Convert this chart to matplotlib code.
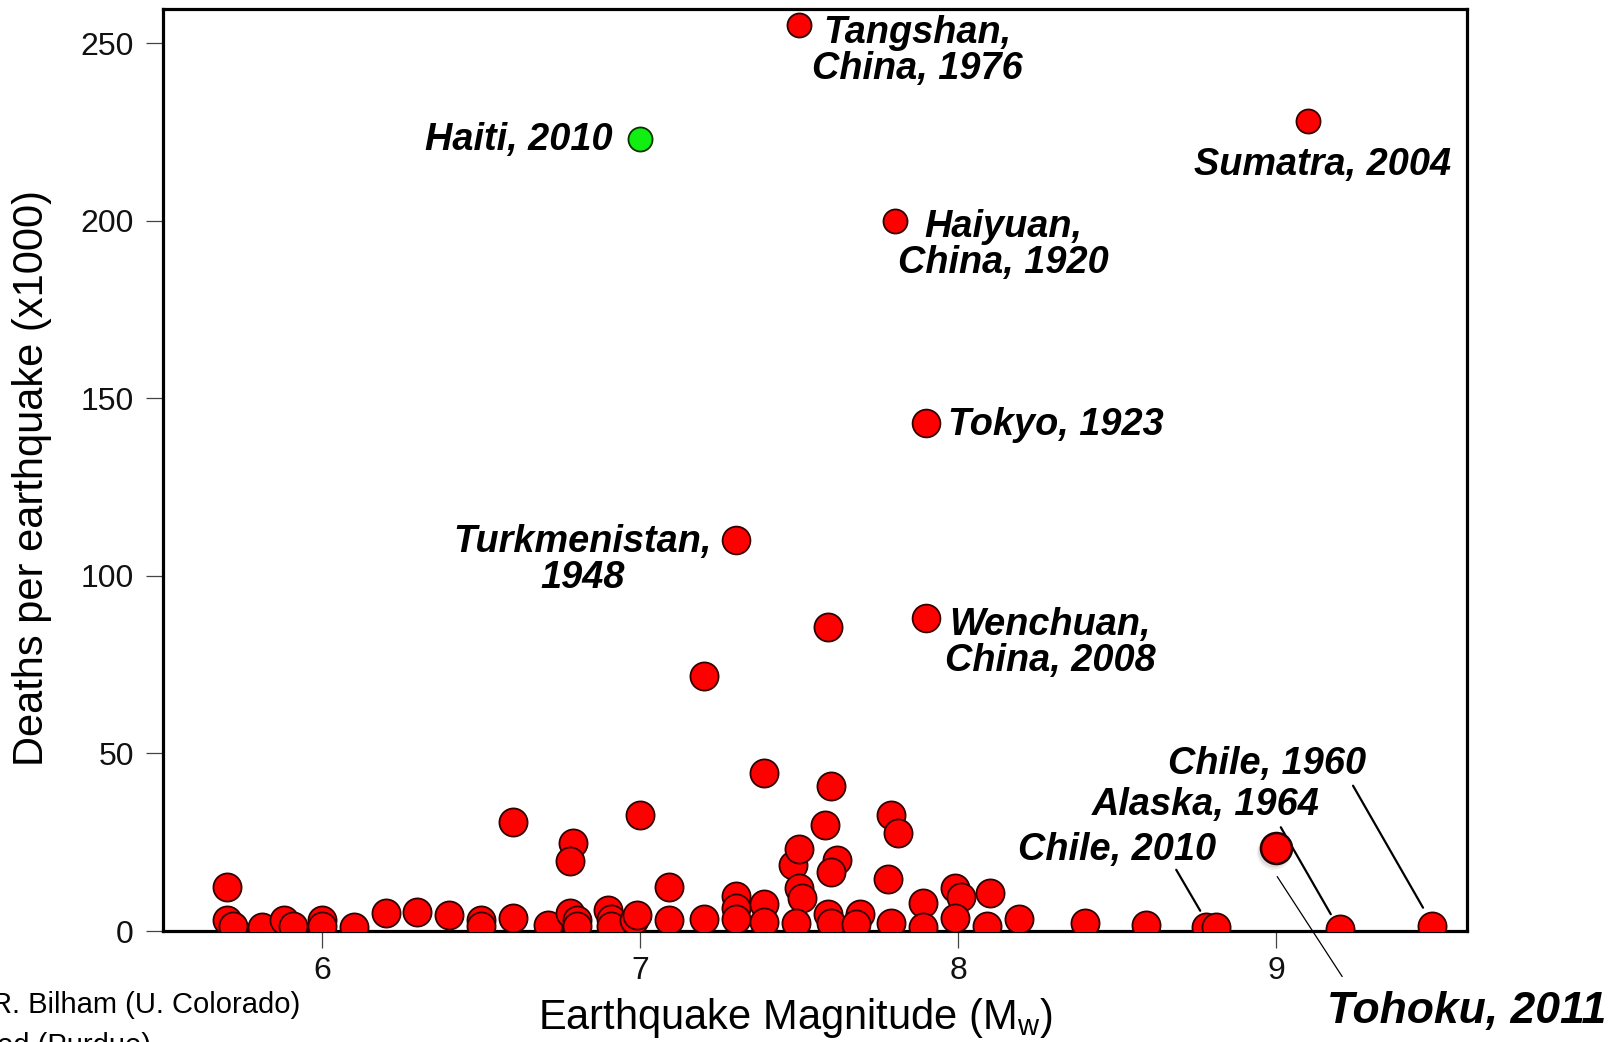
import matplotlib.pyplot as plt
from matplotlib.transforms import offset_copy

plt.rcParams['font.family'] = ['Liberation Sans', 'DejaVu Sans']
plt.rcParams['mathtext.fontset'] = 'custom'
plt.rcParams['mathtext.rm'] = 'Liberation Sans'

# unlabelled earthquakes: magnitude, deaths (x1000)
mag = [5.70, 5.70, 5.72, 5.81, 5.88, 5.91, 6.00, 6.00, 6.10, 6.20,
       6.30, 6.40, 6.50, 6.50, 6.60, 6.60, 6.71, 6.78, 6.80, 6.80,
       6.79, 6.78, 6.90, 6.91, 6.91, 6.98, 6.99, 7.00, 7.09, 7.09,
       7.20, 7.20, 7.30, 7.30, 7.30, 7.39, 7.39, 7.39, 7.48, 7.50,
       7.50, 7.51, 7.49, 7.58, 7.59, 7.60, 7.62, 7.60, 7.59, 7.60,
       7.69, 7.68, 7.78, 7.79, 7.81, 7.79, 7.89, 7.89, 7.99, 8.01,
       8.10, 7.99, 8.09, 8.19, 8.40, 8.59, 8.78, 8.81, 9.20, 9.49]
deaths = [12.5, 3.0, 1.5, 1.2, 3.0, 1.5, 3.0, 1.5, 1.2, 5.0,
          5.3, 4.4, 3.0, 1.5, 3.8, 30.6, 1.8, 5.2, 3.0, 1.5,
          24.8, 19.8, 5.8, 3.5, 1.5, 3.0, 4.4, 32.6, 12.5, 3.0,
          71.7, 3.5, 10.0, 6.6, 3.5, 7.7, 2.5, 44.6, 18.7, 23.0,
          12.0, 9.2, 2.4, 29.8, 85.6, 40.8, 19.9, 16.6, 4.9, 2.4,
          4.9, 2.0, 14.6, 32.7, 27.6, 2.4, 7.9, 1.0, 12.2, 9.5,
          10.8, 3.7, 1.5, 3.5, 2.4, 1.8, 1.2, 1.0, 0.5, 1.5]

# labelled big ones
big_names = ['Tangshan,\nChina, 1976', 'Sumatra, 2004', 'Haiyuan,\nChina, 1920']
big_mag = [7.5, 9.1, 7.8]
big_deaths = [255, 228, 200]

mid_names = ['Tokyo, 1923', 'Turkmenistan,\n1948', 'Wenchuan,\nChina, 2008']
mid_mag = [7.9, 7.3, 7.9]
mid_deaths = [143, 110, 88]

haiti = ('Haiti, 2010', 7.0, 223)
tohoku = ('Tohoku, 2011', 9.0, 23.5)

# small ones on the axis with leader lines
low_names = ['Chile, 2010', 'Alaska, 1964', 'Chile, 1960']
low_mag = [8.78, 9.20, 9.49]
low_deaths = [1.2, 0.5, 1.5]

red = '#ff0000'
edge = '#330000'

fig = plt.figure(figsize=(16.21, 10.42), dpi=100)
ax = fig.add_axes([0.1006, 0.1065, 0.8044, 0.8849])

ax.scatter(mag, deaths, s=410, c=red, edgecolors=edge, linewidths=1.3, zorder=3)
ax.scatter(big_mag, big_deaths, s=300, c=red, edgecolors=edge, linewidths=1.3, zorder=3)
ax.scatter(mid_mag, mid_deaths, s=400, c=red, edgecolors=edge, linewidths=1.3, zorder=3)
ax.scatter([haiti[1]], [haiti[2]], s=300, c='#11ee11', edgecolors='#0a3300',
           linewidths=1.3, zorder=3)

# Tohoku with a soft shadow
for dx, dy, s, a in [(-2, -5, 600, 0.12), (-2, -4, 520, 0.15)]:
    shadow = offset_copy(ax.transData, fig=fig, x=dx, y=dy, units='dots')
    ax.scatter([tohoku[1]], [tohoku[2]], s=s, c='#777777', alpha=a,
               edgecolors='none', transform=shadow, zorder=3)
ax.scatter([tohoku[1]], [tohoku[2]], s=500, c=red, edgecolors='#220000',
           linewidths=1.8, zorder=4)

lab = dict(fontsize=27.3, fontweight='bold', fontstyle='italic',
           textcoords='offset pixels', ha='center', va='center',
           linespacing=1.0, annotation_clip=False)

big_off = [(118, -26), (15, -44), (109, -24)]
for name, x, y, off in zip(big_names, big_mag, big_deaths, big_off):
    ax.annotate(name, (x, y), xytext=off, **lab)

mid_off = [(130, -2), (-153, -20), (124, -25)]
for name, x, y, off in zip(mid_names, mid_mag, mid_deaths, mid_off):
    ax.annotate(name, (x, y), xytext=off, **lab)

ax.annotate(haiti[0], (haiti[1], haiti[2]), xytext=(-121, -1), **lab)

low_off = [(-89, 77), (-134, 124), (-165, 162)]
line_start = [(-30, 57), (-59, 102), (-79, 140)]
line_end = [(-6, 16), (-9, 15), (-9, 18)]
for name, x, y, off, s0, s1 in zip(low_names, low_mag, low_deaths,
                                   low_off, line_start, line_end):
    ax.annotate(name, (x, y), xytext=off, **lab)
    tr = offset_copy(ax.transData, fig=fig, x=s1[0], y=s1[1], units='dots')
    ax.annotate('', (x, y), xycoords=tr, textcoords='offset pixels',
                xytext=(s0[0] - s1[0], s0[1] - s1[1]),
                arrowprops=dict(arrowstyle='-', color='black', lw=1.6,
                                shrinkA=0, shrinkB=0))

lab_t = dict(lab)
lab_t['fontsize'] = 32
ax.annotate(tohoku[0], (tohoku[1], tohoku[2]), xytext=(190, -164), **lab_t)
tr = offset_copy(ax.transData, fig=fig, x=1, y=-29, units='dots')
ax.annotate('', (tohoku[1], tohoku[2]), xycoords=tr, textcoords='offset pixels',
            xytext=(65, -100), annotation_clip=False,
            arrowprops=dict(arrowstyle='-', color='black', lw=0.9,
                            shrinkA=0, shrinkB=0))

ax.set_xlim(5.5, 9.6)
ax.set_ylim(0, 259.6)
ax.set_xticks([6, 7, 8, 9])
ax.set_yticks([0, 50, 100, 150, 200, 250])
for sp in ax.spines.values():
    sp.set_linewidth(2.3)
ax.tick_params(direction='out', length=12, width=0.9, color='#444444',
               labelsize=23, labelcolor='#111111', pad=6)
ax.tick_params(axis='y', pad=9)

ax.set_xlabel(r'Earthquake Magnitude (M$_{\mathrm{w}}$)', fontsize=30)
ax.set_ylabel('Deaths per earthquake (x1000)', fontsize=30)
ax.xaxis.set_label_coords(0.4847, -0.07)
ax.yaxis.set_label_coords(-0.085, 0.491)

fig.text(300 / 1621, 1 - 1005 / 1042, 'R. Bilham (U. Colorado)', fontsize=21,
         ha='right', va='center')
fig.text(151 / 1621, 1 - 1046 / 1042, 'ed (Purdue)', fontsize=21,
         ha='right', va='center')

fig.savefig('out.png', dpi=100)
